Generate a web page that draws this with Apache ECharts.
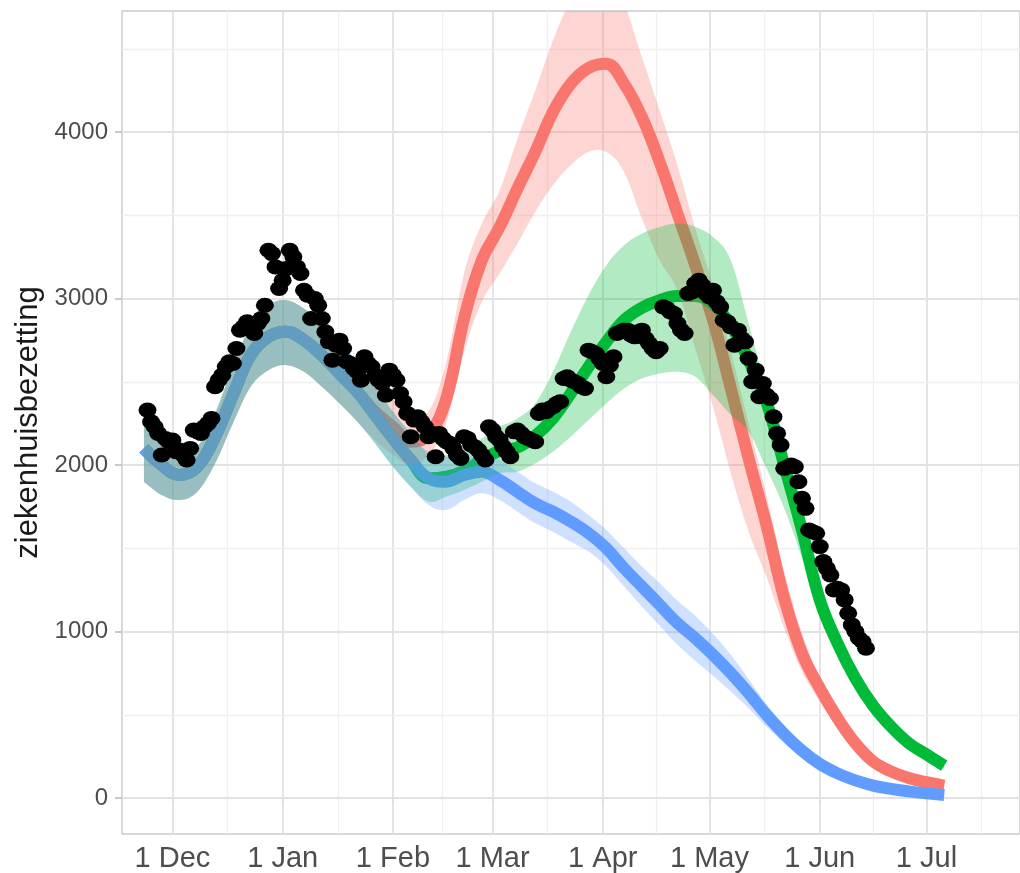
<!DOCTYPE html>
<html><head><meta charset="utf-8">
<script src="https://cdn.jsdelivr.net/npm/echarts@6/dist/echarts.min.js"></script>
<style>html,body{margin:0;padding:0;background:#fff}#c{width:1020px;height:873px}</style>
</head><body><div id="c"></div>
<script>
// ---------- data ----------
const obsStart = '2020-11-24';          // first observed day (daily series)
const observed = [
2330,2260,2230,2190,2060,2160,2140,2150,2080,2090,2060,2030,2100,2210,2200,2190,2230,2250,2280,2470,
2510,2540,2590,2620,2610,2700,2810,2830,2860,2840,2790,2850,2880,2960,3290,3270,3190,3060,3110,3180,
3290,3250,3190,3150,3050,3020,2880,3000,2960,2880,2800,2740,2630,2720,2750,2700,2620,2610,2580,2560,
2510,2650,2610,2590,2540,2510,2490,2420,2570,2540,2510,2430,2380,2310,2170,2270,2290,2260,2230,2170,
2190,2050,2190,2160,2140,2130,2100,2060,2040,2170,2160,2120,2110,2090,2060,2030,2230,2210,2170,2150,
2110,2080,2050,2200,2210,2190,2170,2160,2150,2140,2310,2330,2320,2340,2350,2370,2380,2520,2530,2510,
2500,2490,2470,2460,2690,2680,2670,2640,2610,2530,2600,2650,2790,2800,2810,2810,2780,2770,2800,2810,
2760,2730,2700,2680,2700,2950,2940,2920,2910,2850,2810,2790,3030,3040,3090,3110,3080,3030,3010,3050,
2980,2950,2870,2860,2830,2720,2810,2760,2740,2640,2500,2570,2410,2490,2420,2400,2290,2190,2120,1980,
1990,2000,1990,1900,1800,1740,1610,1600,1590,1510,1420,1380,1340,1250,1260,1250,1190,1110,1040,1000,
960,940,900
];

const curveStart = '2020-11-23';        // model curves, one value every 5 days
const curveStepDays = 5;
const blueMid = [2100,2000,1940,1990,2170,2420,2660,2770,2800,2750,2660,2550,2440,2300,2160,2030,1920,1900,1940,1960,1910,1840,1770,1720,1660,1590,1500,1380,1270,1160,1050,960,860,750,630,500,385,285,205,148,106,75,55,40,28,18];
const blueLo  = [1900,1820,1790,1840,2010,2250,2470,2570,2600,2560,2470,2370,2260,2130,1990,1870,1760,1730,1790,1830,1790,1720,1650,1600,1540,1480,1390,1270,1150,1035,920,825,735,640,540,430,330,245,175,126,90,63,46,33,22,13];
const blueHi  = [2240,2130,2060,2110,2310,2590,2840,2960,2990,2940,2850,2730,2610,2470,2320,2190,2080,2050,2070,2080,2030,1960,1890,1840,1780,1700,1610,1500,1390,1290,1185,1095,985,860,715,565,435,322,235,170,122,87,64,47,34,23];
const redMid  = [2100,2000,1940,1990,2170,2420,2660,2770,2800,2750,2660,2550,2440,2320,2230,2140,2180,2400,2880,3230,3430,3660,3880,4120,4290,4385,4410,4290,4090,3820,3510,3200,2870,2460,2040,1640,1200,870,660,480,330,220,160,120,95,75];
const redLo   = [1900,1820,1790,1840,2010,2250,2470,2570,2600,2560,2470,2370,2260,2150,2060,2000,2060,2250,2680,2980,3150,3330,3520,3680,3800,3880,3880,3760,3480,3230,3050,2700,2350,1950,1600,1330,1020,760,580,430,295,195,140,105,82,63];
const redHi   = [2240,2130,2060,2110,2310,2590,2840,2960,2990,2940,2850,2730,2610,2480,2390,2300,2320,2620,3150,3450,3650,3960,4250,4550,4800,5000,5050,4780,4450,4130,3800,3420,3080,2680,2250,1820,1360,990,720,530,370,245,178,132,104,84];
const greenMid= [2100,2000,1940,1990,2170,2420,2660,2770,2800,2750,2660,2550,2440,2300,2160,2030,1920,1930,1965,2030,2085,2105,2175,2280,2430,2590,2740,2870,2945,2990,3015,3015,2965,2840,2630,2380,2000,1610,1190,930,720,555,430,330,262,195];
const greenLo = [1900,1820,1790,1840,2010,2250,2470,2570,2600,2560,2470,2370,2260,2130,1990,1870,1780,1810,1850,1900,1950,1960,2010,2080,2170,2270,2370,2460,2520,2550,2560,2530,2420,2300,2200,1980,1740,1440,1090,860,670,515,400,305,240,175];
const greenHi = [2240,2130,2060,2110,2310,2590,2840,2960,2990,2940,2850,2730,2610,2470,2320,2190,2070,2060,2090,2160,2230,2280,2370,2560,2800,3020,3200,3320,3390,3430,3450,3430,3370,3230,2850,2460,2080,1690,1260,990,770,590,460,355,285,215];

const tickDates  = ['2020-12-01','2021-01-01','2021-02-01','2021-03-01','2021-04-01','2021-05-01','2021-06-01','2021-07-01'];
const tickLabels = ['1 Dec','1 Jan','1 Feb','1 Mar','1 Apr','1 May','1 Jun','1 Jul'];
const minorDates = ['2020-12-16T12:00:00Z','2021-01-16T12:00:00Z','2021-02-15T00:00:00Z','2021-03-16T12:00:00Z','2021-04-16T00:00:00Z','2021-05-16T12:00:00Z','2021-06-16T00:00:00Z','2021-07-16T12:00:00Z'];
const yTicks = [0,1000,2000,3000,4000];
const yMinor = [500,1500,2500,3500,4500];

// ---------- helpers ----------
const DAY = 86400000;
const ts = s => Date.parse(s.length === 10 ? s + 'T00:00:00Z' : s);
const obsData = observed.map((v, i) => [ts(obsStart) + i * DAY, v]);
const cT = i => ts(curveStart) + i * curveStepDays * DAY;
const pairs = arr => arr.map((v, i) => [cT(i), v]);
const tickTs = tickDates.map(ts);

const RED = '#F8766D', GREEN = '#00BA38', BLUE = '#619CFF';
const xMin = ts('2020-12-01') - 14.17 * DAY;
const xMax = ts('2020-12-01') + 238.3 * DAY;

function lineSeries(name, data, color) {
  return { name, type: 'line', data: pairs(data), smooth: 0.4, symbol: 'none', z: 2, silent: true,
    lineStyle: { color, width: 12, cap: 'butt' } };
}
// cubic-bezier path through pixel points (rendering only)
function curveCmds(p, k) {
  let d = '';
  for (let i = 0; i < p.length - 1; i++) {
    const p0 = p[i - 1] || p[i], p1 = p[i], p2 = p[i + 1], p3 = p[i + 2] || p[i + 1];
    const c1x = p1[0] + (p2[0] - p0[0]) * k, c1y = p1[1] + (p2[1] - p0[1]) * k;
    const c2x = p2[0] - (p3[0] - p1[0]) * k, c2y = p2[1] - (p3[1] - p1[1]) * k;
    d += ' C' + c1x.toFixed(2) + ' ' + c1y.toFixed(2) + ' ' + c2x.toFixed(2) + ' ' + c2y.toFixed(2) + ' ' + p2[0].toFixed(2) + ' ' + p2[1].toFixed(2);
  }
  return d;
}
function ribbon(lo, hi, color) {
  return {
    type: 'custom', z: 3, silent: true, clip: true,
    data: [[cT(0), lo[0]]],
    renderItem: (params, api) => {
      const up = hi.map((v, i) => api.coord([cT(i), v]));
      const dn = lo.map((v, i) => api.coord([cT(i), v])).reverse();
      const d = 'M' + up[0][0] + ' ' + up[0][1] + curveCmds(up, 0.18) +
                ' L' + dn[0][0] + ' ' + dn[0][1] + curveCmds(dn, 0.18) + ' Z';
      return { type: 'path', shape: { pathData: d }, style: { fill: color, opacity: 0.3 } };
    }
  };
}
const majorStyle = { color: '#e2e2e2', width: 1.8, type: 'solid' };
const minorStyle = { color: '#efefef', width: 1.3, type: 'solid' };
const gridLines = [].concat(
  tickTs.map(t => ({ xAxis: t, lineStyle: majorStyle })),
  minorDates.map(s => ({ xAxis: ts(s), lineStyle: minorStyle })),
  yTicks.map(v => ({ yAxis: v, lineStyle: majorStyle })),
  yMinor.map(v => ({ yAxis: v, lineStyle: minorStyle }))
);

const FONT = "'Liberation Sans', Arial, Helvetica, sans-serif";
const chart = echarts.init(document.getElementById('c'), null, { renderer: 'canvas' });
chart.setOption({
  animation: false,
  backgroundColor: '#ffffff',
  grid: { left: 122, right: -2, top: 11, bottom: 39, show: true, borderColor: '#cccccc', borderWidth: 1.5, backgroundColor: 'transparent' },
  xAxis: {
    type: 'value', min: xMin, max: xMax, scale: true,
    axisLine: { show: false },
    splitLine: { show: false },
    axisTick: { show: true, length: 7, lineStyle: { color: '#b8b8b8', width: 1.5 }, customValues: tickTs },
    axisLabel: { customValues: tickTs, fontSize: 29, color: '#4d4d4d', fontFamily: FONT, margin: 10,
      formatter: v => { const k = tickTs.indexOf(v); return k >= 0 ? tickLabels[k] : ''; } }
  },
  yAxis: {
    type: 'value', min: -216, max: 4727,
    name: 'ziekenhuisbezetting', nameLocation: 'middle', nameGap: 72,
    nameTextStyle: { fontSize: 31, color: '#1a1a1a', fontFamily: FONT },
    axisLine: { show: false },
    splitLine: { show: false },
    axisTick: { show: true, length: 7, lineStyle: { color: '#b8b8b8', width: 1.5 }, customValues: yTicks },
    axisLabel: { customValues: yTicks, fontSize: 24, color: '#4d4d4d', fontFamily: FONT, margin: 14,
      formatter: v => (v % 1000 === 0 ? String(v) : '') }
  },
  series: [].concat(
    [{ type: 'line', data: [], z: 1, silent: true,
       markLine: { z: 1, silent: true, symbol: ['none', 'none'], label: { show: false }, animation: false, data: gridLines } }],
    [lineSeries('red', redMid, RED), lineSeries('green', greenMid, GREEN), lineSeries('blue', blueMid, BLUE)],
    [ribbon(redLo, redHi, RED), ribbon(greenLo, greenHi, GREEN), ribbon(blueLo, blueHi, BLUE)],
    [{ type: 'scatter', data: obsData, symbol: 'circle', symbolSize: [18, 15], z: 5, silent: true,
       itemStyle: { color: '#000000', opacity: 1 } }]
  )
});
</script></body></html>
